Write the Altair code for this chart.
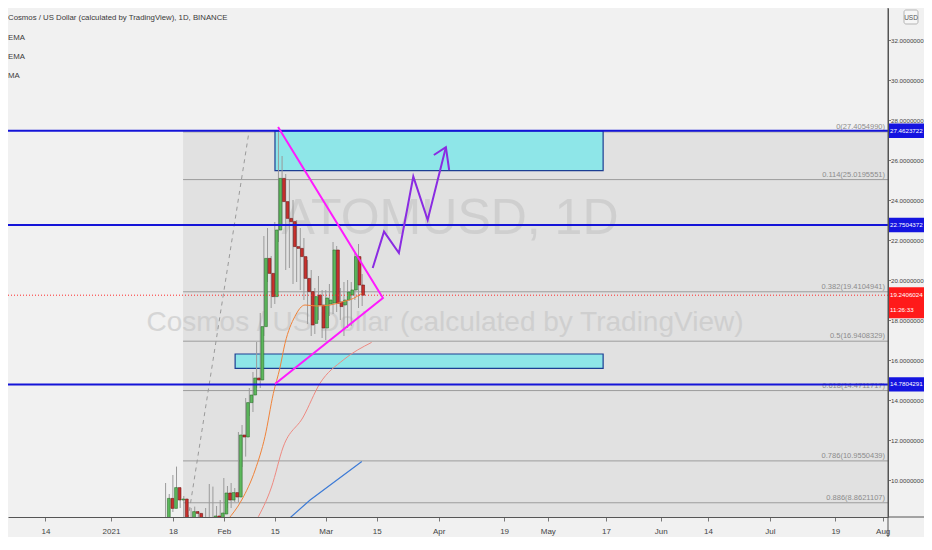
import altair as alt
import pandas as pd

# ---------------- data ----------------
# x = days since 2021-01-01, y = price in USD
day = list(range(15, 70))
open_ = [7.9, 9.08, 8.58, 9.62, 9.0, 9.05, 7.95, 7.8, 8.42, 8.33,
         8.0, 7.6, 7.9, 8.05, 8.2, 8.1, 8.3, 9.35, 9.0, 9.37,
         9.15, 12.25, 12.15, 13.87, 14.25, 15.1, 15.0, 17.67, 21.08, 20.33,
         19.17, 22.5, 25.08, 23.92, 23.08, 22.92, 21.67, 21.58, 21.17, 20.08,
         19.42, 17.83, 19.25, 18.75, 17.6, 18.8, 18.85, 21.5, 18.9, 18.75,
         19.0, 19.25, 19.5, 21.17, 19.75]
high = [9.85, 9.3, 10.25, 10.67, 9.4, 9.2, 8.6, 8.6, 8.67, 8.45,
        8.3, 8.6, 9.8, 9.67, 8.7, 9.0, 10.1, 9.7, 9.85, 9.6,
        12.4, 12.75, 14.1, 14.6, 15.4, 16.9, 18.35, 22.2, 22.6, 21.2,
        22.9, 27.405, 26.2, 25.3, 25.0, 24.0, 23.0, 22.6, 22.1, 21.0,
        20.5, 19.6, 20.2, 19.5, 19.5, 19.8, 21.9, 21.7, 19.6, 19.9,
        20.0, 19.9, 21.4, 21.8, 20.3]
low = [7.6, 8.2, 8.4, 8.8, 8.6, 7.7, 7.5, 7.6, 8.1, 7.7,
       7.3, 7.4, 7.6, 7.8, 7.9, 7.9, 8.1, 8.6, 8.6, 8.9,
       8.9, 10.65, 11.17, 13.2, 13.4, 14.6, 14.6, 17.2, 19.9, 18.6,
       18.8, 21.9, 22.8, 20.5, 20.6, 19.8, 19.9, 19.5, 19.0, 17.8,
       17.2, 17.3, 18.0, 17.1, 17.0, 18.2, 18.3, 18.4, 18.0, 17.2,
       17.6, 17.7, 19.0, 18.6, 18.7]
close = [9.08, 8.58, 9.62, 9.0, 9.05, 7.95, 7.8, 8.42, 8.33, 8.0,
         7.6, 7.9, 8.05, 8.2, 8.1, 8.35, 9.35, 9.0, 9.37, 9.15,
         12.25, 12.15, 13.87, 14.25, 15.1, 15.0, 17.67, 21.08, 20.33, 19.17,
         22.5, 25.08, 23.92, 23.08, 22.92, 21.67, 21.58, 21.17, 20.08, 19.42,
         17.75, 19.17, 18.75, 17.6, 19.1, 19.0, 21.5, 18.83, 18.67, 19.0,
         19.4, 19.5, 21.17, 19.75, 19.24]

# moving averages (read as points)
ema_fast_day = [32, 35.9, 39.6, 42.3, 44.6, 46.4, 47.8, 50.5, 53.3, 56.5, 60.2, 63.8, 66.6, 68.9]
ema_fast_val = [8.0, 9.0, 10.5, 12.17, 14.33, 15.6, 16.83, 18.17, 18.75, 18.7, 18.75, 18.92, 19.08, 19.33]
ema_slow_day = [40, 44.1, 47.3, 52.8, 57.4, 63.8, 71.6]
ema_slow_val = [8.0, 9.65, 11.65, 13.15, 14.83, 16.0, 16.88]
ma_day = [48.5, 54.7, 68.9]
ma_val = [8.0, 9.0, 10.92]

# fibonacci retracement
fib_ratio = ["0", "0.114", "0.382", "0.5", "0.618", "0.786", "0.886"]
fib_value = [27.4054990, 25.0195551, 19.4104941, 16.9408329, 14.4711717, 10.9550439, 8.8621107]
fib_start_day = 19.8
fib_end_day = 37.9
fib_low = 6.476

# horizontal levels
level_value = [27.4623722, 22.7504372, 14.7804291]
last_price = 19.2406024
countdown = "11:26:33"

# zones (day start, day end, price low, price high)
zone_d1 = [45.05, 34.1]
zone_d2 = [135.2, 135.2]
zone_lo = [25.47, 15.58]
zone_hi = [27.46, 16.3]

# triangle and projected path
tri_day = [45.9, 74.7, 45.05]
tri_val = [27.65, 19.1, 14.8]
path_day = [71.9, 75.0, 79.1, 83.05, 87.0, 92.0]
path_val = [20.6, 22.42, 21.35, 25.17, 23.0, 26.64]
head_day = [88.7, 92.0, 92.9]
head_val = [26.25, 26.64, 25.5]

# axis ticks
x_tick_day = [-18, 0, 17, 31, 45, 59, 73, 90, 108, 120, 136, 151, 164, 181, 199, 212]
x_tick_lab = ["14", "2021", "18", "Feb", "15", "Mar", "15", "Apr", "19", "May",
              "17", "Jun", "14", "Jul", "19", "Aug"]
y_ticks = [10, 12, 14, 16, 18, 20, 22, 24, 26, 28, 30, 32]

XMIN, XMAX = -28.297, 213.462
YMIN, YMAX = 8.15, 33.6
FONT = "Liberation Sans"
AX_FS = 6.2

xs = alt.Scale(domain=[XMIN, XMAX], nice=False, zero=False)
ys = alt.Scale(domain=[YMIN, YMAX], nice=False, zero=False)

lab_expr = ""
for v, l in zip(x_tick_day, x_tick_lab):
    lab_expr += f"datum.value == {v} ? '{l}' : "
lab_expr += "''"

candles = pd.DataFrame({"d": day, "o": open_, "h": high, "l": low, "c": close})
candles["up"] = candles["c"] >= candles["o"]

# ---------------- layers ----------------
fib_bg = alt.Chart(pd.DataFrame({"a": [fib_start_day], "b": [XMAX], "t": [fib_value[0]], "u": [fib_low]})).mark_rect(
    color="#e1e1e1", clip=True
).encode(
    x=alt.X("a:Q", scale=xs, axis=alt.Axis(values=x_tick_day, labelExpr=lab_expr, title=None, grid=False,
                                           orient="bottom", tickSize=4, labelPadding=6, labelFont=FONT,
                                           labelFontSize=8, labelColor="#444", domainColor="#555",
                                           tickColor="#777", labelFlush=False, labelOverlap=False)),
    x2="b:Q",
    y=alt.Y("t:Q", scale=ys, axis=alt.Axis(values=y_ticks, format=".7f", title=None, grid=False,
                                           orient="right", tickSize=2.5, labelPadding=0, labelFont=FONT,
                                           labelFontSize=AX_FS, labelColor="#444", domainColor="#555",
                                           tickColor="#777", labelOverlap=False)),
    y2="u:Q",
)

wm = pd.DataFrame({"t": ["ATOMUSD, 1D"]})
watermark1 = alt.Chart(wm).mark_text(font=FONT, fontSize=50, color="#c4c4c4", opacity=0.6,
                                      align="center", baseline="middle").encode(
    x=alt.value(442), y=alt.value(211), text="t:N")
wm2 = pd.DataFrame({"t": ["Cosmos / US Dollar (calculated by TradingView)"]})
watermark2 = alt.Chart(wm2).mark_text(font=FONT, fontSize=28, color="#c4c4c4", opacity=0.6,
                                       align="center", baseline="middle").encode(
    x=alt.value(437), y=alt.value(315), text="t:N")

fib_df = pd.DataFrame({"v": fib_value, "a": fib_start_day, "b": XMAX,
                       "lab": [f"{r}({v:.7f})" for r, v in zip(fib_ratio, fib_value)]})
fib_lines = alt.Chart(fib_df).mark_rule(color="#9c9c9c", strokeWidth=1, clip=True).encode(
    x=alt.X("a:Q", scale=xs, axis=None), x2="b:Q", y=alt.Y("v:Q", scale=ys, axis=None))
fib_text = alt.Chart(fib_df).mark_text(font=FONT, fontSize=7.5, color="#8c8c8c", align="right",
                                       baseline="bottom", dy=-1, clip=True).encode(
    x=alt.value(877), y=alt.Y("v:Q", scale=ys, axis=None), text="lab:N")

diag = alt.Chart(pd.DataFrame({"d": [fib_start_day, fib_end_day], "v": [fib_low, fib_value[0]]})).mark_line(
    color="#9a9a9a", strokeWidth=1, strokeDash=[4, 4], clip=True).encode(
    x=alt.X("d:Q", scale=xs, axis=None), y=alt.Y("v:Q", scale=ys, axis=None))

zones = alt.Chart(pd.DataFrame({"a": zone_d1, "b": zone_d2, "lo": zone_lo, "hi": zone_hi})).mark_rect(
    fill="#8ee6e8", stroke="#1c3e93", strokeWidth=1.2, clip=True).encode(
    x=alt.X("a:Q", scale=xs, axis=None), x2="b:Q", y=alt.Y("hi:Q", scale=ys, axis=None), y2="lo:Q")

wicks = alt.Chart(candles).mark_rule(color="#9a9a9a", strokeWidth=1, clip=True).encode(
    x=alt.X("d:Q", scale=xs, axis=None), y=alt.Y("h:Q", scale=ys, axis=None), y2="l:Q")
bodies = alt.Chart(candles).mark_bar(size=2.8, strokeWidth=0.6, clip=True).encode(
    x=alt.X("d:Q", scale=xs, axis=None), y=alt.Y("o:Q", scale=ys, axis=None), y2="c:Q",
    fill=alt.condition("datum.up", alt.value("#5cb85c"), alt.value("#c9302c")),
    stroke=alt.condition("datum.up", alt.value("#2d6e2d"), alt.value("#6e1a1a")),
)

def line(xv, yv, color, width, **kw):
    return alt.Chart(pd.DataFrame({"d": xv, "v": yv, "i": list(range(len(xv)))})).mark_line(
        color=color, strokeWidth=width, clip=True, **kw).encode(
        x=alt.X("d:Q", scale=xs, axis=None), y=alt.Y("v:Q", scale=ys, axis=None), order="i:Q")

ema_fast = line(ema_fast_day, ema_fast_val, "#f0833a", 1, interpolate="monotone")
ema_slow = line(ema_slow_day, ema_slow_val, "#ee8a82", 1, interpolate="monotone")
ma = line(ma_day, ma_val, "#3d7bd6", 1.2)

last_line = alt.Chart(pd.DataFrame({"v": [last_price], "a": [XMIN], "b": [XMAX]})).mark_rule(
    color="#ff2a2a", strokeWidth=1, strokeDash=[1, 2]).encode(
    x=alt.X("a:Q", scale=xs, axis=None), x2="b:Q", y=alt.Y("v:Q", scale=ys, axis=None))

lev_df = pd.DataFrame({"v": level_value, "a": XMIN, "b": XMAX,
                       "top": [v + 0.36 for v in level_value], "bot": [v - 0.36 for v in level_value],
                       "lab": [f"{v:.7f}" for v in level_value]})
levels = alt.Chart(lev_df).mark_rule(color="#1414d8", strokeWidth=2).encode(
    x=alt.X("a:Q", scale=xs, axis=None), x2="b:Q", y=alt.Y("v:Q", scale=ys, axis=None))

tri = line(tri_day, tri_val, "#ff1aff", 2)
path = line(path_day, path_val, "#8a2be2", 2)
head = line(head_day, head_val, "#8a2be2", 2)

# price labels on the axis
lev_box = alt.Chart(lev_df).mark_rect(color="#1414e0").encode(
    x=alt.value(881), x2=alt.value(916), y=alt.Y("top:Q", scale=ys, axis=None), y2="bot:Q")
lev_txt = alt.Chart(lev_df).mark_text(font=FONT, fontSize=AX_FS, color="white", align="left",
                                      baseline="middle").encode(
    x=alt.value(882), y=alt.Y("v:Q", scale=ys, axis=None), text="lab:N")

last_df = pd.DataFrame({"top": [last_price + 0.4], "bot": [last_price - 1.15], "v": [last_price],
                        "v2": [last_price - 0.75], "lab": [f"{last_price:.7f}"], "cd": [countdown]})
last_box = alt.Chart(last_df).mark_rect(color="#ff1a1a").encode(
    x=alt.value(881), x2=alt.value(916), y=alt.Y("top:Q", scale=ys, axis=None), y2="bot:Q")
last_txt = alt.Chart(last_df).mark_text(font=FONT, fontSize=AX_FS, color="white", align="left",
                                        baseline="middle").encode(
    x=alt.value(882), y=alt.Y("v:Q", scale=ys, axis=None), text="lab:N")
last_txt2 = alt.Chart(last_df).mark_text(font=FONT, fontSize=AX_FS, color="white", align="left",
                                         baseline="middle").encode(
    x=alt.value(882), y=alt.Y("v2:Q", scale=ys, axis=None), text="cd:N")

usd_box = alt.Chart(pd.DataFrame({"t": ["USD"]})).mark_rect(
    fill="#f6f6f6", stroke="#b5b5b5", strokeWidth=1, cornerRadius=2).encode(
    x=alt.value(896), x2=alt.value(910), y=alt.value(2), y2=alt.value(16))
usd_txt = alt.Chart(pd.DataFrame({"t": ["USD"]})).mark_text(
    font=FONT, fontSize=6.5, color="#555", align="center", baseline="middle").encode(
    x=alt.value(903), y=alt.value(9.5), text="t:N")

header = alt.Chart(pd.DataFrame({"t": ["Cosmos / US Dollar (calculated by TradingView), 1D, BINANCE",
                                       "EMA", "EMA", "MA"],
                                 "yy": [10, 30, 49, 68]})).mark_text(
    font=FONT, fontSize=7.8, color="#3a3a3a", align="left", baseline="middle").encode(
    x=alt.value(0), y=alt.Y("yy:Q", scale=alt.Scale(domain=[0, 509], range=[0, 509]), axis=None),
    text="t:N")

# axis extension lines
xaxis_ext = alt.Chart(pd.DataFrame({"t": [0]})).mark_rule(color="#555", strokeWidth=1).encode(
    x=alt.value(880), x2=alt.value(916), y=alt.value(509))
yaxis_ext = alt.Chart(pd.DataFrame({"t": [0]})).mark_rule(color="#555", strokeWidth=1).encode(
    x=alt.value(880), y=alt.value(0), y2=alt.value(529))

chart = alt.layer(
    fib_bg, watermark1, watermark2, fib_lines, fib_text, diag, zones, wicks, bodies,
    ema_fast, ema_slow, ma, last_line, levels, tri, path, head,
    lev_box, lev_txt, last_box, last_txt, last_txt2, usd_box, usd_txt, header,
    xaxis_ext, yaxis_ext,
).resolve_scale(x="independent", y="independent").properties(
    width=880, height=509,
    autosize=alt.AutoSizeParams(type="none"),
    padding={"left": 0, "top": 0, "right": 36, "bottom": 20},
    background="#f1f1f1",
).configure_view(stroke=None)

chart.save("out.html", embed_options={"renderer": "svg", "actions": False})
